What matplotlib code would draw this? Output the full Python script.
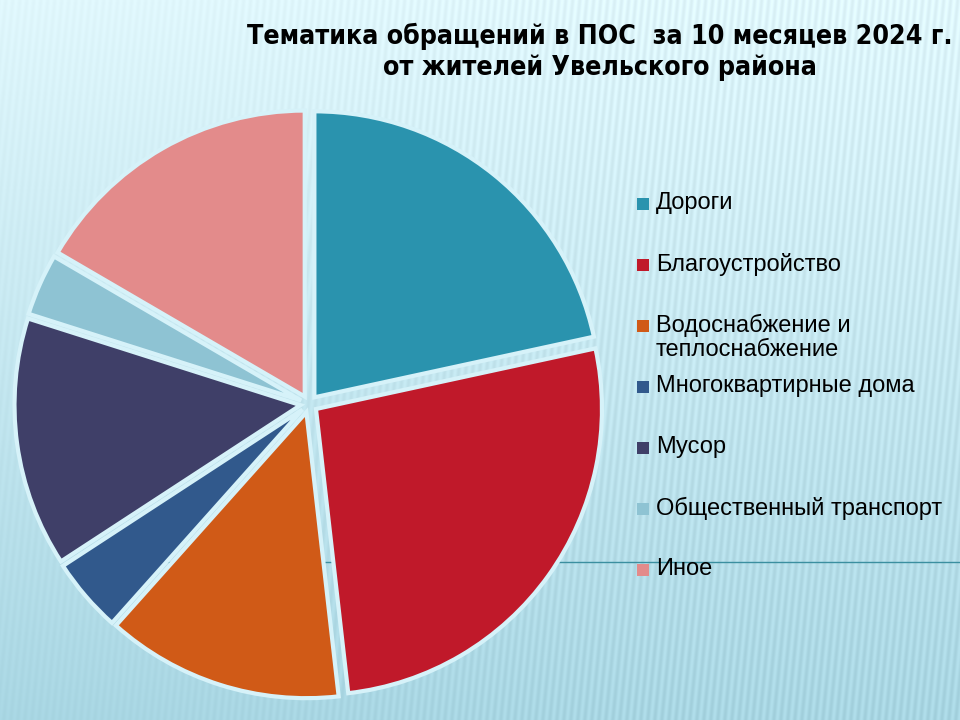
import numpy as np
import matplotlib
matplotlib.use("Agg")
import matplotlib.pyplot as plt
from matplotlib.patches import Rectangle

categories = ["Дороги", "Благоустройство", "Водоснабжение и\nтеплоснабжение",
              "Многоквартирные дома", "Мусор", "Общественный транспорт", "Иное"]
values = [21.6, 26.6, 13.4, 4.2, 14.1, 3.5, 16.6]
colors = ["#2A93AE", "#C0192A", "#D05A17", "#31598C", "#3F3F68", "#8EC3D3", "#E38B8B"]
title = "Тематика обращений в ПОС  за 10 месяцев 2024 г.\nот жителей Увельского района"

W, H = 960, 720
fig = plt.figure(figsize=(9.6, 7.2), dpi=100)

# background gradient with subtle stripes
bg = fig.add_axes([0, 0, 1, 1], zorder=-10)
yy, xx = np.mgrid[0:H, 0:W]
t = yy / H
top = np.array([0.88, 0.97, 0.99])
bot = np.array([0.66, 0.84, 0.89])
img = top[None, None, :] * (1 - t[..., None]) + bot[None, None, :] * t[..., None]
stripes = 0.03 * np.sin(2 * np.pi * (xx + 0.1 * yy) / 7.0)
mask = np.clip((xx - 150) / 500, 0, 1) * 0.7 + 0.3
img = np.clip(img + (stripes * mask)[..., None], 0, 1)
bg.imshow(img, extent=[0, 1, 0, 1], aspect="auto")
bg.plot([0.17, 1.0], [1 - 562 / H, 1 - 562 / H], color="#3A8FA0", lw=1.0)
bg.set_xlim(0, 1); bg.set_ylim(0, 1)
bg.axis("off")

# pie
cx, cy, r = 309, 404, 286
half = 1.05 * r
ax = fig.add_axes([(cx - half) / W, (H - cy - half) / H, 2 * half / W, 2 * half / H])
ax.pie(values, colors=colors, startangle=90, counterclock=False,
       explode=[0.03] * len(values), radius=1.0,
       wedgeprops=dict(edgecolor="#D6F2F9", linewidth=3))
ax.set_xlim(-1.05, 1.05); ax.set_ylim(-1.05, 1.05)
ax.set_aspect("equal")
ax.axis("off")

# title
fig.text(600 / W, 1 - 52 / H, title, ha="center", va="center",
         fontsize=19.2, fontweight="bold", fontstretch="condensed", linespacing=1.25,
         family=["DejaVu Sans"], color="black")

# legend (manual)
for i, (lab, col) in enumerate(zip(categories, colors)):
    y = 204 + 61 * i
    fig.patches.append(Rectangle(((637) / W, 1 - (y + 6) / H), 12 / W, 12 / H,
                                 transform=fig.transFigure, facecolor=col,
                                 edgecolor="none", figure=fig))
    fig.text(656 / W, 1 - (y - 12) / H, lab, ha="left", va="top",
             fontsize=17, family=["Liberation Sans", "DejaVu Sans"],
             color="black", linespacing=1.1)

fig.savefig("out.png", dpi=100)
